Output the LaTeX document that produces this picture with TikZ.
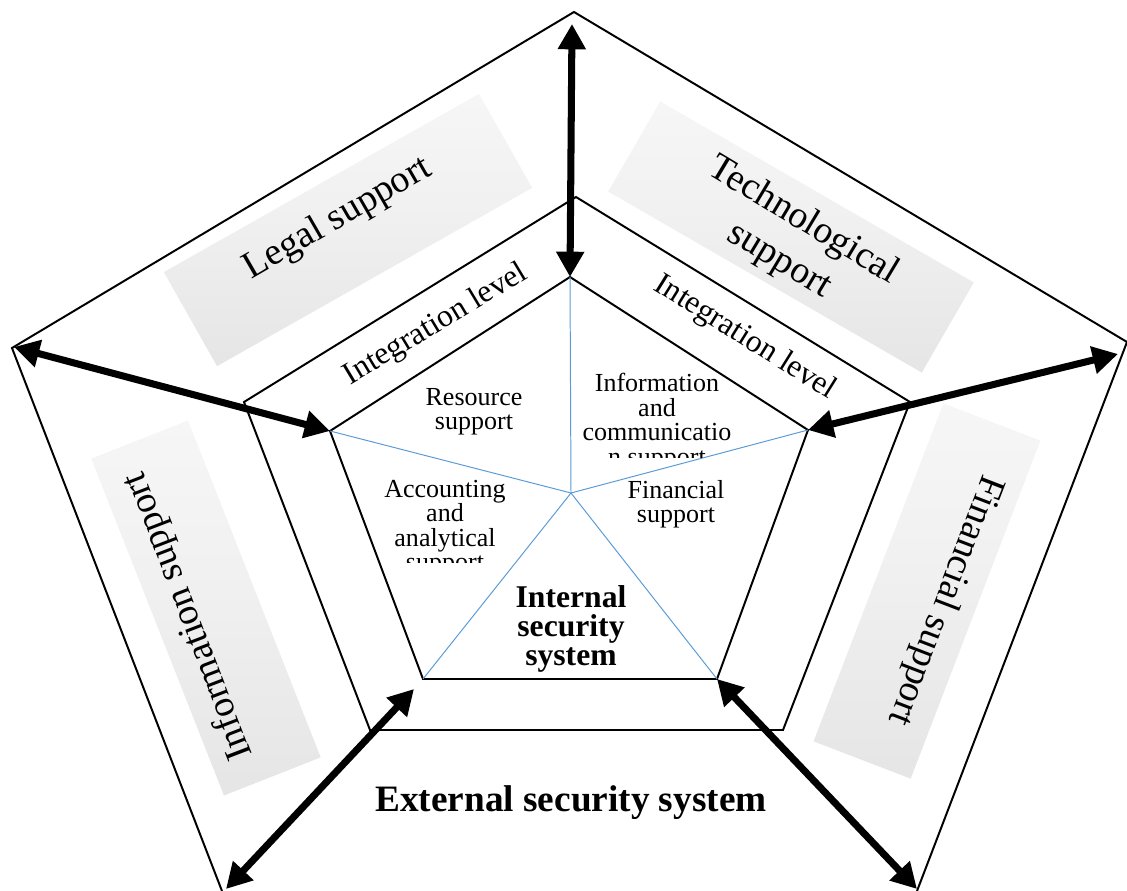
\documentclass[tikz,border=0pt]{standalone}
\usepackage{fontspec}
\setmainfont{Liberation Serif}
\usetikzlibrary{arrows.meta}

\definecolor{spokeblue}{RGB}{91,155,213}
\pgfdeclareverticalshading{bandglow}{100bp}{color(0bp)=(gray!6); color(22bp)=(gray!21); color(55bp)=(gray!11); color(100bp)=(gray!2)}

\begin{document}
\begin{tikzpicture}[x=0.025cm, y=-0.025cm,
    edge/.style={line width=1.4pt, line join=miter},
    spoke/.style={draw=spokeblue, line width=0.7pt},
    band/.style={shading=bandglow, minimum width=9.05cm, minimum height=2.6cm, inner sep=0pt},
    outerlabel/.style={font=\fontsize{27}{33}\selectfont, align=center},
    levellabel/.style={font=\fontsize{22.5}{26}\selectfont},
    cell/.style={font=\fontsize{18.5}{17.4}\selectfont, align=center, inner sep=0pt},
    core/.style={font=\fontsize{22.5}{20.5}\selectfont\bfseries, align=center},
    twoway/.style={{Triangle[length=18pt,width=19pt]}-{Triangle[length=18pt,width=19pt]}, line width=5pt}]

    \useasboundingbox (0,0) rectangle (1127,891);

    % Pentagon corners
    \coordinate (oT) at (574,12);
    \coordinate (oR) at (1127,342);
    \coordinate (oBR) at (917,891);
    \coordinate (oBL) at (222,891);
    \coordinate (oL) at (12,348);

    \coordinate (mT) at (576,197);
    \coordinate (mR) at (910,402);
    \coordinate (mBR) at (783,730);
    \coordinate (mBL) at (370,730);
    \coordinate (mL) at (244,402);

    \coordinate (iT) at (570,277);
    \coordinate (iR) at (808,430);
    \coordinate (iBR) at (717,679);
    \coordinate (iBL) at (423,679);
    \coordinate (iL) at (330,431);
    \coordinate (hub) at (571,493);

    % Arrow ends near the outer corners
    \coordinate (aT) at (572,24);
    \coordinate (aL) at (14,347);
    \coordinate (aR) at (1118,354);
    \coordinate (aBL) at (226,889);
    \coordinate (aBR) at (917,889);
    \coordinate (aBLin) at (414,689);

    % Grey label bands
    \node[band, rotate=29.5, minimum height=2.7cm] (legalband) at (348,230) {};
    \node[band, rotate=-30] (techband) at (791,237) {};
    \node[band, rotate=111.5] (infoband) at (206,608) {};
    \node[band, rotate=-111] (finband) at (927,591) {};

    % Outer, middle and inner pentagons
    \draw[edge] (oBL) -- (oL) -- (oT) -- (oR) -- (oBR);
    \draw[edge] (mT) -- (mR) -- (mBR) -- (mBL) -- (mL) -- cycle;
    \draw[edge] (iT) -- (iR) -- (iBR) -- (iBL) -- (iL) -- cycle;

    % Spokes
    \foreach \v in {iT, iR, iBR, iBL, iL}
        \draw[spoke] (hub) -- (\v);

    % Outer labels
    \node[outerlabel, rotate=30] (legal) at (338,219) {Legal support};
    \node[outerlabel, rotate=-31] (tech) at (791,241) {Technological\\support};
    \node[outerlabel, rotate=111] (info) at (189,616) {Information support};
    \node[outerlabel, rotate=-111] (fin) at (945,600) {Financial support};

    \node[levellabel, rotate=31] (levelL) at (436,325) {Integration level};
    \node[levellabel, rotate=-32] (levelR) at (745,338) {Integration level};

    % Inner cells
    \node[cell] (resource) at (474,412) {Resource\\support};
    \begin{scope}
        \clip (560,360) rectangle (760,458);
        \node[cell] (ict) at (657,422) {Information\\and\\communicatio\\n support};
    \end{scope}
    \node[cell] (financial) at (676,504) {Financial\\support};
    \begin{scope}
        \clip (360,470) rectangle (530,563);
        \node[cell] (accounting) at (445,528) {Accounting\\and\\analytical\\support};
    \end{scope}
    \node[core] (internal) at (571,629) {Internal\\security\\system};

    \node[font=\fontsize{26.5}{30}\selectfont\bfseries] (external) at (571,803) {External security system};

    % Two-way arrows
    \draw[twoway] (aT) -- (iT);
    \draw[twoway] (aL) -- (iL);
    \draw[twoway] (aR) -- (iR);
    \draw[twoway] (aBL) -- (aBLin);
    \draw[twoway] (aBR) -- (iBR);
\end{tikzpicture}
\end{document}
